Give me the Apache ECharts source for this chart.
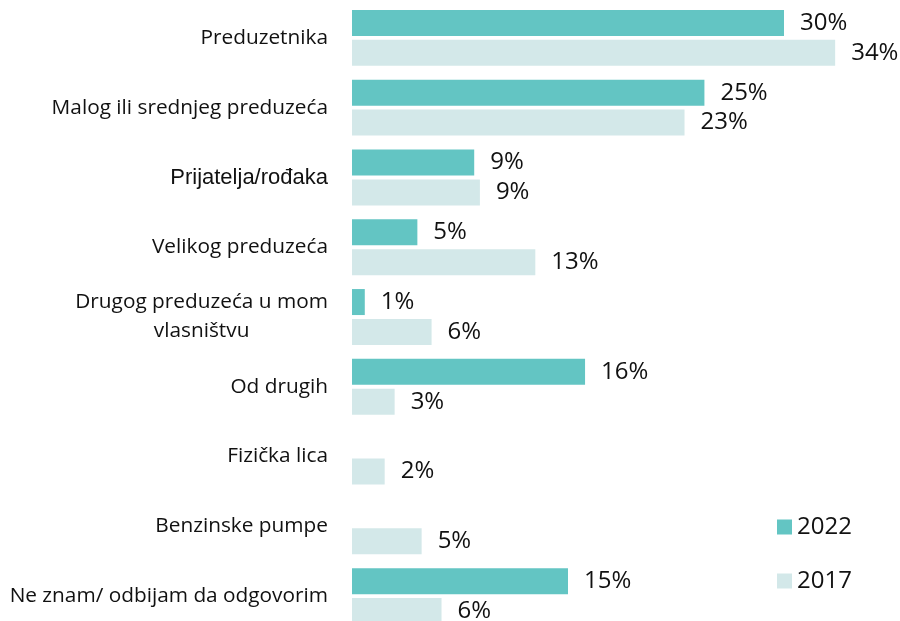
<!DOCTYPE html>
<html>
<head>
<meta charset="utf-8">
<script src="https://cdn.jsdelivr.net/npm/echarts@6/dist/echarts.min.js"></script>
<style>
  html, body { margin: 0; padding: 0; background: #fff; }
  #chart { width: 900px; height: 621px; }
</style>
</head>
<body>
<div id="chart"></div>
<script>
var categories = ['Preduzetnika', 'Malog ili srednjeg preduzeća', 'Prijatelja/rođaka', 'Velikog preduzeća',
    'Drugog preduzeća u mom vlasništvu', 'Od drugih', 'Fizička lica', 'Benzinske pumpe', 'Ne znam/ odbijam da odgovorim'];
var seriesNames = ['2022', '2017'];
// procenti ocitani sa slike
var values2022 = [30.4, 24.8, 8.6, 4.6, 0.9, 16.4, null, null, 15.2];
var values2017 = [34.0, 23.4, 9.0, 12.9, 5.6, 3.0, 2.3, 4.9, 6.3];

var boja2022 = '#63c5c3';
var boja2017 = '#d3e8e9';

function catLabel(v) {
    if (v == 'Prijatelja/rođaka') return '{a|' + v + '}';
    if (v == 'Drugog preduzeća u mom vlasništvu') return '{c|Drugog preduzeća u mom}\n{c|vlasništvu}';
    return v;
}

var valueLabel = {
    show: true,
    position: 'right',
    distance: 16,
    color: '#111',
    fontFamily: 'Open Sans',
    fontSize: 24,
    formatter: function (p) {
        if (p.value == null) return '';
        return Math.round(p.value) + '%';
    }
};

var myChart = echarts.init(document.getElementById('chart'));
var option = {
    backgroundColor: '#fff',
    animation: false,
    legend: {
        orient: 'vertical',
        left: 772,
        top: 509,
        itemWidth: 15,
        itemHeight: 15,
        itemGap: 28,
        icon: 'rect',
        textStyle: { fontFamily: 'Open Sans', fontSize: 24, color: '#111', lineHeight: 26 },
        data: seriesNames
    },
    grid: {
        left: 352,
        width: 540,
        top: 3,
        height: 628,
        containLabel: false,
        outerBoundsMode: 'none'
    },
    xAxis: {
        type: 'value',
        min: 0,
        max: 38,
        show: false
    },
    yAxis: {
        type: 'category',
        inverse: true,
        data: categories,
        axisLine: { show: false },
        axisTick: { show: false },
        splitLine: { show: false },
        axisLabel: {
            margin: 24,
            color: '#111',
            fontFamily: 'Open Sans',
            fontSize: 20.8,
            lineHeight: 29,
            formatter: catLabel,
            rich: {
                a: { fontFamily: 'Liberation Sans', fontSize: 22, color: '#111' },
                c: { fontFamily: 'Open Sans', fontSize: 20.8, color: '#111', align: 'center', lineHeight: 29 }
            }
        }
    },
    series: [
        {
            name: seriesNames[0],
            type: 'bar',
            data: values2022,
            barWidth: 26,
            barGap: '15%',
            itemStyle: { color: boja2022 },
            label: valueLabel
        },
        {
            name: seriesNames[1],
            type: 'bar',
            data: values2017,
            barWidth: 26,
            itemStyle: { color: boja2017 },
            label: valueLabel
        }
    ]
};
myChart.setOption(option);
</script>
</body>
</html>
